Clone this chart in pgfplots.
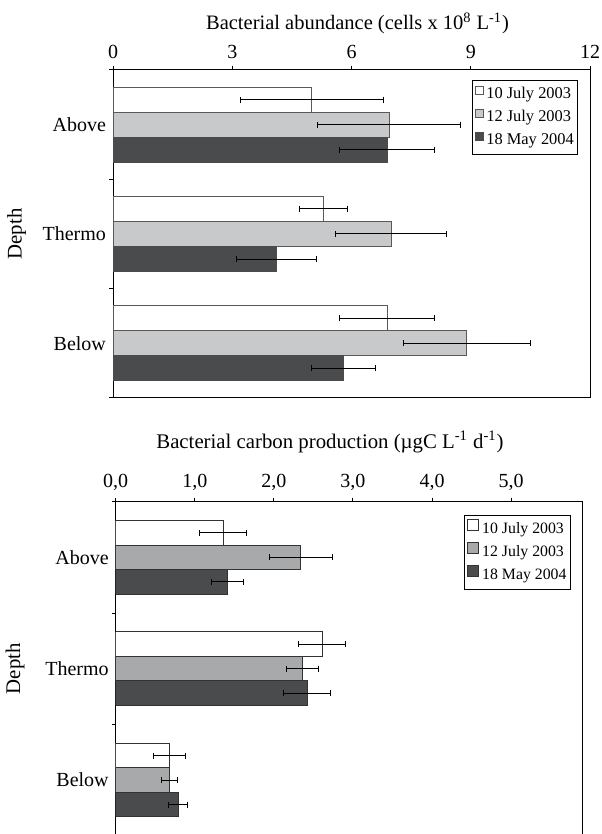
\documentclass[border=0pt]{standalone}
\usepackage{fontspec}
\setmainfont{Liberation Serif}
\usepackage{pgfplots}
\pgfplotsset{compat=1.18}
\usepackage{pgfplotstable}
\definecolor{lg}{RGB}{200,201,203}
\definecolor{mg}{RGB}{168,169,171}
\definecolor{dg}{RGB}{74,75,76}

% top panel: y position, value, error
\pgfplotstableread{
y x e
2.2287 5.00 1.80
1.2287 5.29 0.60
0.2287 6.90 1.20
}\tAw
\pgfplotstableread{
y x e
2 6.95 1.80
1 7.00 1.40
0 8.90 1.60
}\tAg
\pgfplotstableread{
y x e
1.7713 6.90 1.20
0.7713 4.11 1.00
-0.2287 5.80 0.80
}\tAd
% bottom panel
\pgfplotstableread{
y x e
2.22 1.36 0.30
1.22 2.61 0.30
0.22 0.68 0.20
}\tBw
\pgfplotstableread{
y x e
2 2.34 0.40
1 2.36 0.20
0 0.68 0.10
}\tBg
\pgfplotstableread{
y x e
1.78 1.41 0.20
0.78 2.42 0.30
-0.22 0.79 0.12
}\tBd

\pgfplotsset{
  common/.style={
    scale only axis, anchor=north west,
    xbar, bar shift=0pt,
    xmin=0, ymin=-0.5, ymax=2.5,
    xtick pos=right, xticklabel pos=right,
    ytick={-0.5,0.5,1.5,2.5}, yticklabels={}, ytick pos=left,
    extra y ticks={0,1,2}, extra y tick labels={Below,Thermo,Above},
    extra y tick style={major tick length=0pt},
    tick align=outside, major tick length=2pt,
    axis line style={line width=0.5pt},
    tick style={line width=0.5pt, black},
    /pgf/number format/assume math mode=true,
    tick label style={font=\fontsize{10}{12}\selectfont},
    ylabel style={font=\fontsize{10.4}{12}\selectfont},
    ylabel={Depth},
    legend style={draw=black, line width=0.5pt,
      cells={anchor=west}, inner sep=1.2pt, row sep=0pt,
      nodes={inner sep=0.8pt, text height=7pt, text depth=2.9pt}},
  },
  eb/.style={error bars/.cd, x dir=both, x explicit,
    error bar style={black, line width=0.5pt},
    error mark=|,
    error mark options={black, line width=0.5pt, mark size=1.5pt}},
}

\begin{document}
\begin{tikzpicture}
\begin{axis}[common,
  at={(56.5pt,-35pt)}, width=238.5pt, height=164pt,
  bar width=0.2287, xmax=12, xtick={0,3,6,9,12},
  xlabel={Bacterial abundance (cells x 10\textsuperscript{8} L\textsuperscript{-1})},
  xlabel style={font=\fontsize{10.25}{12}\selectfont, at={(axis description cs:0.5126,1)}, anchor=base, yshift=20pt},
  ylabel style={at={(axis description cs:-0.2023,0.5)}, anchor=center},
  legend style={at={(axis description cs:0.9755,0.9695)}, anchor=north east,
    font=\fontsize{8.2}{10}\selectfont},
  legend image code/.code={\draw[#1,line width=0.4pt] (0pt,0pt) rectangle (3.9pt,3.9pt); \path (4.3pt,0pt);},
]
\addplot[fill=white, draw=black!65, line width=0.5pt, eb] table[x=x, y=y, x error=e] {\tAw};
\addplot[fill=lg, draw=black!65, line width=0.5pt, eb] table[x=x, y=y, x error=e] {\tAg};
\addplot[fill=dg, draw=dg, line width=0.5pt, eb] table[x=x, y=y, x error=e] {\tAd};
\legend{10 July 2003, 12 July 2003, 18 May 2004}
\end{axis}

\begin{axis}[common,
  at={(57.85pt,-250.85pt)}, width=233.3pt, height=167pt,
  bar width=0.22, xmax=5.9, xtick={0,1,2,3,4,5},
  xticklabel style={/pgf/number format/.cd, fixed, fixed zerofill, precision=1, use comma},
  xlabel={Bacterial carbon production (µgC L\textsuperscript{-1} d\textsuperscript{-1})},
  xlabel style={font=\fontsize{10.4}{12}\selectfont, at={(axis description cs:0.4593,1)}, anchor=base, yshift=26.85pt},
  ylabel style={at={(axis description cs:-0.2158,0.5)}, anchor=center},
  legend style={at={(axis description cs:0.9758,0.960)}, anchor=north east,
    font=\fontsize{7.9}{10}\selectfont},
  legend image code/.code={\draw[#1,line width=0.4pt] (0pt,-0.4pt) rectangle (5.3pt,4.9pt); \path (6.2pt,0pt);},
]
\addplot[fill=white, draw=black!80, line width=0.5pt, eb] table[x=x, y=y, x error=e] {\tBw};
\addplot[fill=mg, draw=black!80, line width=0.5pt, eb] table[x=x, y=y, x error=e] {\tBg};
\addplot[fill=dg, draw=black!80, line width=0.5pt, eb] table[x=x, y=y, x error=e] {\tBd};
\legend{10 July 2003, 12 July 2003, 18 May 2004}
\end{axis}
\pgfresetboundingbox
\path (0,0) rectangle (300.5pt,-417pt);
\end{tikzpicture}
\end{document}
